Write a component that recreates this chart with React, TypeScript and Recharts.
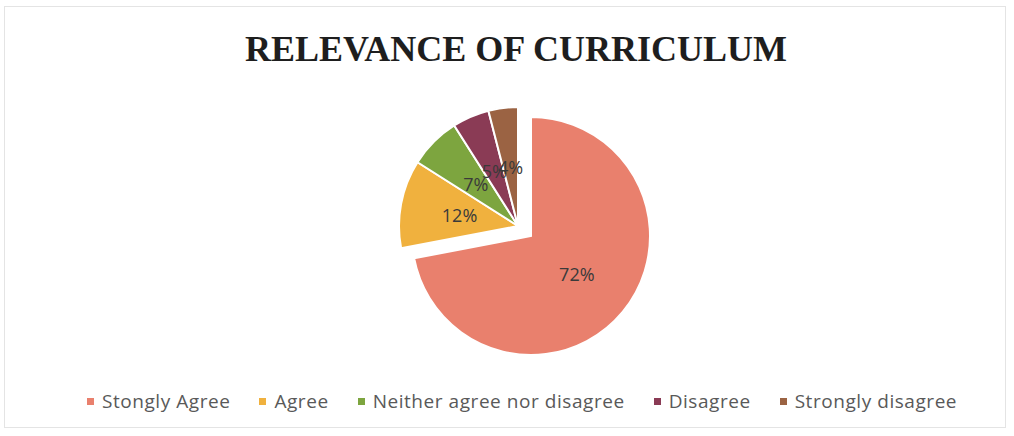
import React from 'react';
import { PieChart, Pie, Cell, Legend } from 'recharts';

const categories = ['Stongly Agree', 'Agree', 'Neither agree nor disagree', 'Disagree', 'Strongly disagree'];
const values = [72, 12, 7, 5, 4];
const colors = ['#E9806D', '#F0B13E', '#7DA53F', '#8A3B55', '#9B6343'];

const data = categories.map((name, i) => ({ name, value: values[i] }));

const RADIAN = Math.PI / 180;
const FONT = "'Open Sans', sans-serif";

// label inside the slice, about half way out like Excel does
const makeLabel = (only: (i: number) => boolean) => (props: any) => {
  const { cx, cy, midAngle, outerRadius, percent, index } = props;
  if (!only(index)) return null;
  const r = outerRadius * 0.5;
  const x = cx + r * Math.cos(-midAngle * RADIAN);
  const y = cy + r * Math.sin(-midAngle * RADIAN);
  return (
    <text
      x={x}
      y={y}
      fill="#3a3a3a"
      fontSize={18}
      fontFamily={FONT}
      textAnchor="middle"
      dominantBaseline="central"
    >
      {`${Math.round(percent * 100)}%`}
    </text>
  );
};

const LegendContent = () => (
  <div style={{ display: 'flex', alignItems: 'center', fontFamily: FONT, fontSize: 19, letterSpacing: 0.55, color: '#595959' }}>
    {categories.map((name, i) => (
      <div key={name} style={{ display: 'flex', alignItems: 'center', marginRight: i < categories.length - 1 ? 29 : 0 }}>
        <span style={{ width: 7, height: 7, background: colors[i], marginRight: 8, display: 'inline-block' }} />
        <span>{name}</span>
      </div>
    ))}
  </div>
);

const App: React.FC = () => {
  return (
    <div style={{ position: 'absolute', left: 0, top: 0, width: 1014, height: 436, background: '#fff' }}>
      <div style={{ position: 'absolute', left: 4, top: 6, width: 1000, height: 420, border: '1px solid #e4e4e4' }} />
      <div
        style={{
          position: 'absolute',
          left: 0,
          top: 28,
          width: 1032,
          textAlign: 'center',
          fontFamily: "'Liberation Serif', serif",
          fontWeight: 'bold',
          fontSize: 36,
          color: '#1e1e1e',
        }}
      >
        RELEVANCE OF CURRICULUM
      </div>
      <div style={{ position: 'absolute', left: 0, top: 0 }}>
        <PieChart width={1014} height={436}>
          {/* small slices */}
          <Pie
            data={data}
            dataKey="value"
            nameKey="name"
            cx={513}
            cy={221}
            outerRadius={119}
            startAngle={90}
            endAngle={-270}
            stroke="#fff"
            strokeWidth={2}
            labelLine={false}
            label={makeLabel((i) => i !== 0)}
            isAnimationActive={false}
            legendType="none"
          >
            {data.map((d, i) => (
              <Cell key={d.name} fill={i === 0 ? 'transparent' : colors[i]} stroke={i === 0 ? 'none' : '#fff'} />
            ))}
          </Pie>
          {/* exploded main slice */}
          <Pie
            data={data}
            dataKey="value"
            nameKey="name"
            cx={526}
            cy={231}
            outerRadius={119}
            startAngle={90}
            endAngle={-270}
            stroke="#fff"
            strokeWidth={2}
            labelLine={false}
            label={makeLabel((i) => i === 0)}
            isAnimationActive={false}
            legendType="none"
          >
            {data.map((d, i) => (
              <Cell key={d.name} fill={i === 0 ? colors[0] : 'transparent'} stroke={i === 0 ? '#fff' : 'none'} />
            ))}
          </Pie>
          <Legend
            content={<LegendContent />}
            wrapperStyle={{ left: 87, top: 388, width: 'auto' }}
          />
        </PieChart>
      </div>
    </div>
  );
};

export default App;
